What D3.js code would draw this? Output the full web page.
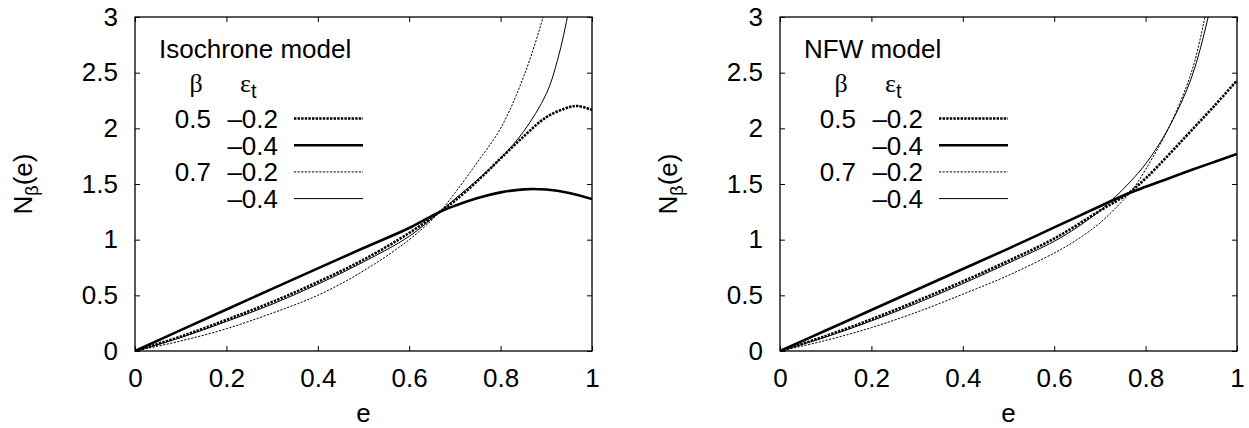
<!DOCTYPE html>
<html>
<head>
<meta charset="utf-8">
<script src="https://cdn.jsdelivr.net/npm/d3@7"></script>
<style>
  body { margin: 0; background: #fff; }
  text { font-family: "Liberation Sans", Arial, Helvetica, sans-serif; fill: #000; }
</style>
</head>
<body>
<div id="chart-area"></div>
<script>
// values, N_beta(e) for each (beta, eps_t)
const xTicks = [0, 0.2, 0.4, 0.6, 0.8, 1];
const yTicks = [0, 0.5, 1, 1.5, 2, 2.5, 3];
const legendBeta = ['0.5', '', '0.7', ''];
const legendEps = ['\u20130.2', '\u20130.4', '\u20130.2', '\u20130.4'];

// Isochrone model
const isoE_05_02 = [0, 0.1, 0.2, 0.3, 0.4, 0.5, 0.6, 0.667, 0.7, 0.75, 0.8, 0.85, 0.9, 0.95, 0.97, 1.0];
const isoN_05_02 = [0, 0.13, 0.28, 0.44, 0.62, 0.82, 1.06, 1.25, 1.35, 1.53, 1.73, 1.925, 2.1, 2.19, 2.2, 2.165];
const isoE_05_04 = [0, 0.1, 0.2, 0.3, 0.4, 0.5, 0.6, 0.667, 0.7, 0.75, 0.8, 0.85, 0.9, 0.95, 1.0];
const isoN_05_04 = [0, 0.187, 0.373, 0.558, 0.742, 0.925, 1.105, 1.25, 1.305, 1.375, 1.425, 1.452, 1.45, 1.42, 1.365];
const isoE_07_02 = [0, 0.1, 0.2, 0.3, 0.4, 0.5, 0.6, 0.667, 0.7, 0.75, 0.8, 0.85, 0.893, 0.92];
const isoN_07_02 = [0, 0.09, 0.2, 0.34, 0.5, 0.72, 1.0, 1.25, 1.42, 1.7, 2.0, 2.46, 3.0, 3.45];
const isoE_07_04 = [0, 0.1, 0.2, 0.3, 0.4, 0.5, 0.6, 0.667, 0.7, 0.75, 0.8, 0.85, 0.9, 0.925, 0.95, 0.97];
const isoN_07_04 = [0, 0.12, 0.265, 0.42, 0.6, 0.8, 1.03, 1.25, 1.365, 1.54, 1.73, 1.97, 2.31, 2.62, 3.08, 3.6];

// NFW model
const nfwE_05_02 = [0, 0.1, 0.2, 0.3, 0.4, 0.5, 0.6, 0.7, 0.76, 0.8, 0.85, 0.9, 0.95, 1.0];
const nfwN_05_02 = [0, 0.135, 0.285, 0.45, 0.625, 0.81, 1.01, 1.26, 1.41, 1.55, 1.76, 1.98, 2.2, 2.43];
const nfwE_05_04 = [0, 0.1, 0.2, 0.3, 0.4, 0.5, 0.6, 0.7, 0.75, 0.8, 0.85, 0.9, 0.95, 1.0];
const nfwN_05_04 = [0, 0.184, 0.368, 0.552, 0.736, 0.92, 1.11, 1.3, 1.395, 1.475, 1.55, 1.625, 1.698, 1.77];
const nfwE_07_02 = [0, 0.1, 0.2, 0.3, 0.4, 0.5, 0.6, 0.65, 0.7, 0.75, 0.77, 0.8, 0.85, 0.9, 0.93, 0.95];
const nfwN_07_02 = [0, 0.095, 0.21, 0.35, 0.51, 0.68, 0.88, 1.0, 1.15, 1.35, 1.44, 1.63, 2.0, 2.5, 3.0, 3.4];
const nfwE_07_04 = [0, 0.1, 0.2, 0.3, 0.4, 0.5, 0.6, 0.65, 0.7, 0.72, 0.75, 0.8, 0.85, 0.9, 0.937, 0.96];
const nfwN_07_04 = [0, 0.125, 0.27, 0.43, 0.605, 0.79, 0.985, 1.11, 1.26, 1.335, 1.45, 1.68, 2.0, 2.45, 3.0, 3.45];

const zip = (xs, ys) => xs.map((x, i) => [x, ys[i]]);

const panels = [
  {
    name: 'Isochrone model',
    left: 135,
    series: [
      zip(isoE_05_02, isoN_05_02),
      zip(isoE_05_04, isoN_05_04),
      zip(isoE_07_02, isoN_07_02),
      zip(isoE_07_04, isoN_07_04),
    ],
  },
  {
    name: 'NFW model',
    left: 780,
    series: [
      zip(nfwE_05_02, nfwN_05_02),
      zip(nfwE_05_04, nfwN_05_04),
      zip(nfwE_07_02, nfwN_07_02),
      zip(nfwE_07_04, nfwN_07_04),
    ],
  },
];

// line look for each series, same order as the legend
const styles = [
  { width: 2.6, dash: '2.4,1.2' },
  { width: 2.6, dash: null },
  { width: 1, dash: '2.2,1.4' },
  { width: 1, dash: null },
];

let width = 1249;
let height = 428;
let plotW = 457;
let plotTop = 17;
let plotBottom = 351;
let fontSize = 26;
let tickFmt = (d) => String(d);

let svg = d3
  .select('#chart-area')
  .append('svg')
  .attr('id', 'chart')
  .attr('width', width)
  .attr('height', height);

panels.forEach((p, pi) => {
  let x = d3.scaleLinear().domain([0, 1]).range([p.left, p.left + plotW]);
  let y = d3.scaleLinear().domain([0, 3]).range([plotBottom, plotTop]);

  let g = svg.append('g');

  //clip so the steep curves stop at the frame
  g.append('clipPath')
    .attr('id', 'clip' + pi)
    .append('rect')
    .attr('x', p.left)
    .attr('y', plotTop)
    .attr('width', plotW)
    .attr('height', plotBottom - plotTop);

  let axisStyle = (sel) => {
    sel.select('.domain').remove();
    sel.selectAll('line').attr('stroke', '#000').attr('stroke-width', 1);
    sel.selectAll('text').style('font-size', fontSize + 'px').style('font-family', '"Liberation Sans", Arial, sans-serif');
  };

  g.append('g')
    .attr('transform', `translate(0,${plotBottom})`)
    .call(d3.axisBottom(x).tickValues(xTicks).tickFormat(tickFmt).tickSize(-5).tickSizeOuter(0).tickPadding(18))
    .call(axisStyle);
  g.append('g')
    .attr('transform', `translate(0,${plotTop})`)
    .call(d3.axisTop(x).tickValues(xTicks).tickSize(-5).tickSizeOuter(0).tickFormat(''))
    .call(axisStyle);
  g.append('g')
    .attr('transform', `translate(${p.left},0)`)
    .call(d3.axisLeft(y).tickValues(yTicks).tickFormat(tickFmt).tickSize(-5).tickSizeOuter(0).tickPadding(17))
    .call(axisStyle);
  g.append('g')
    .attr('transform', `translate(${p.left + plotW},0)`)
    .call(d3.axisRight(y).tickValues(yTicks).tickSize(-5).tickSizeOuter(0).tickFormat(''))
    .call(axisStyle);

  g.append('rect')
    .attr('x', p.left)
    .attr('y', plotTop)
    .attr('width', plotW)
    .attr('height', plotBottom - plotTop)
    .attr('fill', 'none')
    .attr('stroke', '#000')
    .attr('stroke-width', 1.3);

  //curves
  let line = d3
    .line()
    .x((d) => x(d[0]))
    .y((d) => y(d[1]))
    .curve(d3.curveCatmullRom.alpha(0.5));

  g.append('g')
    .attr('clip-path', `url(#clip${pi})`)
    .selectAll('path')
    .data(p.series)
    .enter()
    .append('path')
    .attr('d', line)
    .attr('fill', 'none')
    .attr('stroke', '#000')
    .attr('stroke-width', (d, i) => styles[i].width)
    .attr('stroke-dasharray', (d, i) => styles[i].dash);

  //axis titles
  g.append('text')
    .attr('x', (x(0) + x(1)) / 2)
    .attr('y', 422)
    .attr('text-anchor', 'middle')
    .style('font-size', fontSize + 'px')
    .text('e');

  let yt = g
    .append('text')
    .attr('transform', `translate(${p.left - 103},${(plotTop + plotBottom) / 2}) rotate(-90)`)
    .attr('text-anchor', 'middle')
    .style('font-size', fontSize + 'px');
  yt.append('tspan').text('N');
  yt.append('tspan').attr('dy', 6).style('font-size', '18px').text('\u03b2');
  yt.append('tspan').attr('dy', -6).text('(e)');

  //legend
  let L = p.left;
  g.append('text')
    .attr('x', L + 24)
    .attr('y', 58)
    .style('font-size', fontSize + 'px')
    .text(p.name);

  g.append('text')
    .attr('x', L + 61)
    .attr('y', 92)
    .attr('text-anchor', 'middle')
    .style('font-size', fontSize + 'px')
    .style('font-family', '"Liberation Serif", "DejaVu Serif", serif')
    .text('\u03b2');

  let eps = g
    .append('text')
    .attr('x', L + 105)
    .attr('y', 92)
    .style('font-size', fontSize + 'px');
  eps.append('tspan').style('font-family', '"Liberation Serif", "DejaVu Serif", serif').text('\u03b5');
  eps.append('tspan').attr('dy', 6).style('font-size', '20px').text('t');

  let rowH = 26.7;
  let rows = g
    .selectAll('.legend-row')
    .data(legendEps)
    .enter()
    .append('g')
    .attr('class', 'legend-row')
    .attr('transform', (d, i) => `translate(${L},${128 + i * rowH})`);

  rows
    .append('text')
    .attr('x', 76)
    .attr('text-anchor', 'end')
    .style('font-size', fontSize + 'px')
    .text((d, i) => legendBeta[i]);
  rows
    .append('text')
    .attr('x', 143)
    .attr('text-anchor', 'end')
    .style('font-size', fontSize + 'px')
    .text((d) => d);
  rows
    .append('line')
    .attr('x1', 159)
    .attr('x2', 228)
    .attr('y1', -9.5)
    .attr('y2', -9.5)
    .attr('stroke', '#000')
    .attr('stroke-width', (d, i) => styles[i].width)
    .attr('stroke-dasharray', (d, i) => styles[i].dash);
});
</script>
</body>
</html>
